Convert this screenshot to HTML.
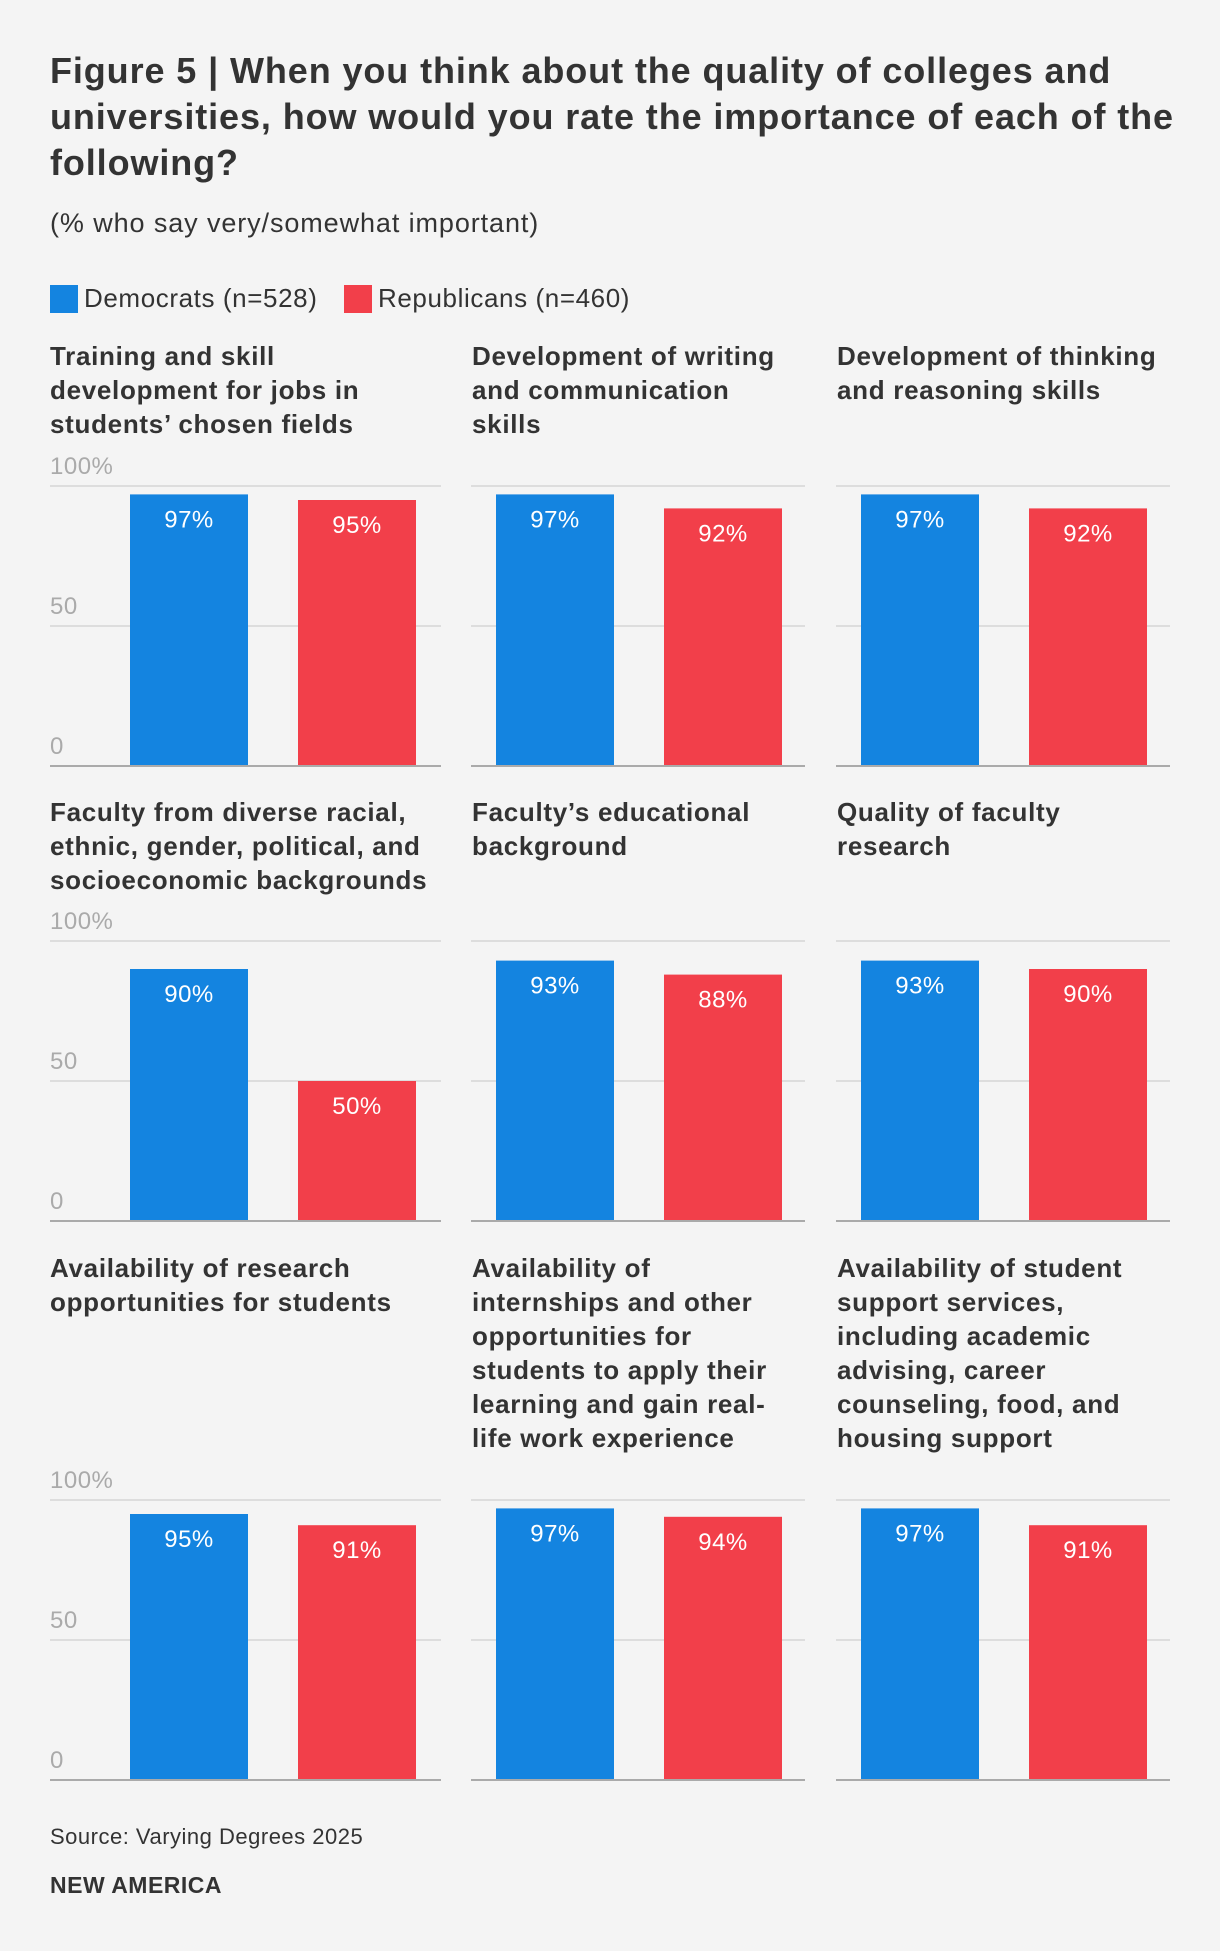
<!DOCTYPE html>
<html><head><meta charset="utf-8">
<style>
html,body{margin:0;padding:0;background:#f4f4f4;}
body{width:1220px;height:1946px;overflow:hidden;font-family:"Liberation Sans",sans-serif;}
svg text{font-family:"Liberation Sans",sans-serif;}
</style></head>
<body>
<svg id="chart" width="1220" height="1946" viewBox="0 0 1220 1946" xmlns="http://www.w3.org/2000/svg">
<rect x="0" y="0" width="1220" height="1946" fill="#f4f4f4"/>
<text font-size="36" font-weight="bold" fill="#333" letter-spacing="0.9">
<tspan x="50" y="83">Figure 5 | When you think about the quality of colleges and</tspan>
<tspan x="50" y="129">universities, how would you rate the importance of each of the</tspan>
<tspan x="50" y="175">following?</tspan>
</text>
<text x="50" y="232" font-size="27" fill="#333" letter-spacing="0.9">(% who say very/somewhat important)</text>
<g>
<rect x="50" y="285" width="28" height="28" fill="#1484e0"/>
<text x="84" y="307" font-size="26" fill="#333" letter-spacing="0.6">Democrats (n=528)</text>
<rect x="344" y="285" width="28" height="28" fill="#f23f4a"/>
<text x="378" y="307" font-size="26" fill="#333" letter-spacing="0.6">Republicans (n=460)</text>
</g>
<g id="panels"></g>
<text x="50" y="1844" font-size="22" fill="#333" letter-spacing="0.5">Source: Varying Degrees 2025</text>
<text x="50" y="1893" font-size="23" font-weight="bold" fill="#333" letter-spacing="0.5">NEW AMERICA</text>
</svg>
<script>
const titles = [
  ["Training and skill","development for jobs in","students’ chosen fields"],
  ["Development of writing","and communication","skills"],
  ["Development of thinking","and reasoning skills"],
  ["Faculty from diverse racial,","ethnic, gender, political, and","socioeconomic backgrounds"],
  ["Faculty’s educational","background"],
  ["Quality of faculty","research"],
  ["Availability of research","opportunities for students"],
  ["Availability of","internships and other","opportunities for","students to apply their","learning and gain real-","life work experience"],
  ["Availability of student","support services,","including academic","advising, career","counseling, food, and","housing support"]
];
const demValues = [97,97,97,90,93,93,95,97,97];
const repValues = [95,92,92,50,88,90,91,94,91];
const tickValues = [0,50,100];
const tickLabels = ["0","50","100%"];

const NS = "http://www.w3.org/2000/svg";
const root = document.getElementById("panels");
function mk(tag, attrs, parent){
  const e = document.createElementNS(NS, tag);
  for (const k in attrs) e.setAttribute(k, attrs[k]);
  (parent||root).appendChild(e);
  return e;
}
const colX = [50, 471, 836];
const colW = [391, 334, 334];
const barOff = [[80,248],[25,193],[25,193]];
const barW = 118;
const rowTitleY = [365, 821, 1277];
const rowBase = [766, 1221, 1780];
const plotH = 280;
function yScale(v, r){ return rowBase[r] - v/100*plotH; }

for (let i=0;i<titles.length;i++){
  const r = Math.floor(i/3), c = i%3;
  const g = mk("g", {});
  
  
  const t = mk("text", {"font-size":26,"font-weight":"bold",fill:"#333","letter-spacing":0.7}, g);
  
  
  titles[i].forEach((ln,k)=>{
    const ts = mk("tspan",{x:colX[c]+(c===0?0:1), y:rowTitleY[r]+k*34}, t);
    ts.textContent = ln;
  });
  tickValues.forEach((v,k)=>{
    const y = yScale(v,r);
    const l = mk("line",{x1:colX[c],x2:colX[c]+colW[c],y1:y,y2:y,stroke:v===0?"#aaa":"#ddd","stroke-width":2}, g);
    
    
    if (c===0){
      const tl = mk("text",{x:colX[c],y:y-12,"font-size":24,fill:"#aaa","letter-spacing":0.5}, g);
      
      
      tl.textContent = tickLabels[k];
    }
  });
  [[demValues[i],"#1484e0",barOff[c][0],"dem"],[repValues[i],"#f23f4a",barOff[c][1],"rep"]].forEach(([v,col,off,nm])=>{
    const y = yScale(v,r);
    const b = mk("rect",{x:colX[c]+off,y:y,width:barW,height:rowBase[r]-1-y,fill:col}, g);
    
    
    const lt = mk("text",{x:colX[c]+off+barW/2,y:y+33,"font-size":24,fill:"#fff","text-anchor":"middle","letter-spacing":0.5}, g);
    
    
    lt.textContent = v + "%";
  });
}
</script>
</body></html>
